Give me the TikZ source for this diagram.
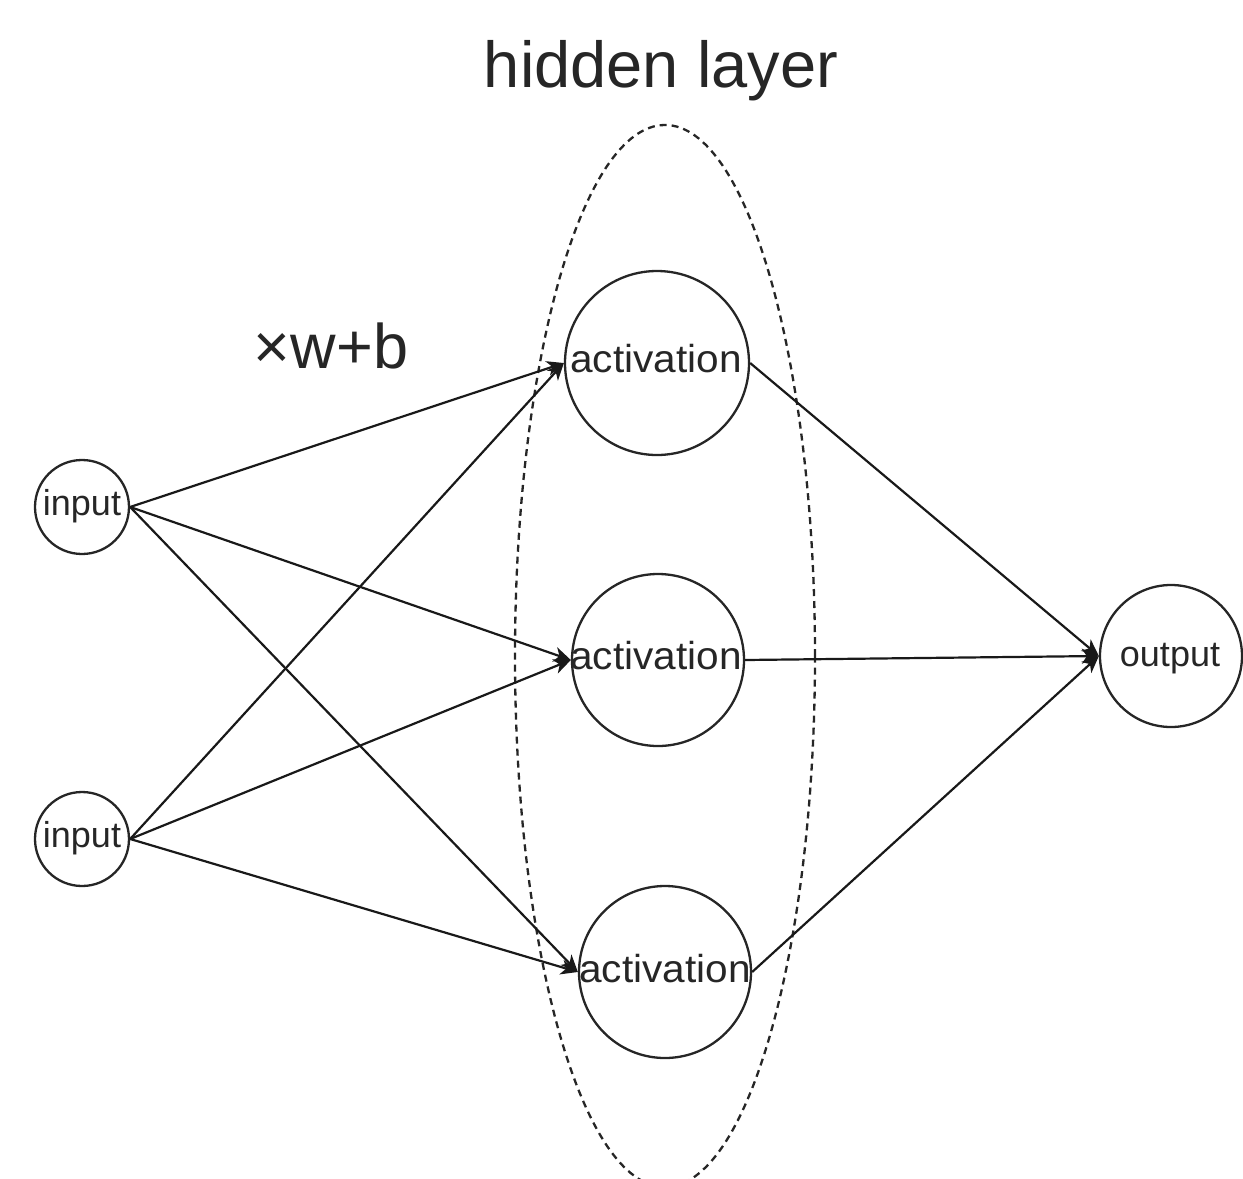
\documentclass[tikz,border=0pt]{standalone}
\usepackage{fontspec}
\setmainfont{Liberation Sans}
\usetikzlibrary{arrows.meta}
\tikzset{
  neuron/.style={circle, draw=black!85, line width=2.3bp, inner sep=0pt},
  lbl/.style={anchor=base, inner sep=0pt, text=black!85},
  link/.style={draw=black!90, line width=2.2bp, -{Stealth[length=17bp, width=15bp, inset=5bp]}},
  group/.style={draw=black!85, line width=2.3bp, dash pattern=on 7bp off 5bp},
}
\newcommand{\px}[1]{\fontsize{#1bp}{#1bp}\selectfont}
\begin{document}
\begin{tikzpicture}[x=1bp, y=-1bp]
  \useasboundingbox (0,0) rectangle (1243,1179);
  \clip (0,0) rectangle (1243,1179);

  % hidden layer outline
  \draw[group] (665,656) ellipse [x radius=150bp, y radius=531bp];
  \node[lbl] (title) at (661,87) {\px{65}hidden layer};
  \node[lbl] (wb) at (331,368) {\px{63}×w+b};

  % input layer
  \node[neuron, minimum size=94bp] (in1) at (82,507) {};
  \node[neuron, minimum size=94bp] (in2) at (82,839) {};
  \node[lbl] (in1t) at (82,515) {\px{36}input};
  \node[lbl] (in2t) at (82,847) {\px{36}input};

  % hidden layer
  \node[neuron, minimum size=184bp] (a1) at (657,363) {};
  \node[neuron, minimum size=172bp] (a2) at (658,660) {};
  \node[neuron, minimum size=172bp] (a3) at (665,972) {};
  \node[lbl, xscale=1.04] (a1t) at (656,372) {\px{39}activation};
  \node[lbl, xscale=1.04] (a2t) at (656,669) {\px{39}activation};
  \node[lbl, xscale=1.04] (a3t) at (665,982) {\px{39}activation};

  % output layer
  \node[neuron, minimum size=142bp] (out) at (1171,656) {};
  \node[lbl] (outt) at (1170,666) {\px{36}output};

  % weighted connections
  \foreach \s in {in1,in2}{
    \foreach \t in {a1,a2,a3}{
      \draw[link] (\s.east) -- (\t.west);
    }
  }
  \foreach \s in {a1,a2,a3}{
    \draw[link] (\s.east) -- (out.west);
  }
\end{tikzpicture}
\end{document}
